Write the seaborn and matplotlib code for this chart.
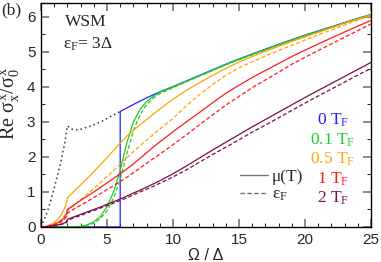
import numpy as np
import pandas as pd
import matplotlib
matplotlib.use("Agg")
import matplotlib.pyplot as plt
from matplotlib.lines import Line2D
from matplotlib.ticker import MultipleLocator
import seaborn as sns

# ── Data ─────────────────────────────────────────────────────────────────────
omega = [0, 0.5, 1, 1.5, 1.8, 1.95, 2, 2.5, 3, 3.5, 4, 4.5, 5, 5.5, 6, 6.5, 7,
         7.5, 8, 8.5, 9, 10, 11, 12, 13, 14, 15, 16, 17, 18, 19, 20, 21, 22,
         23, 24, 25]

green_mu = [0, 0, 0, 0, 0, 0, 0, 0.0, 0.02, 0.06, 0.15, 0.30, 0.58, 1.0, 1.62,
            2.40, 3.0, 3.36, 3.58, 3.73, 3.85, 4.0, 4.16, 4.32, 4.48, 4.64,
            4.79, 4.93, 5.07, 5.21, 5.34, 5.47, 5.59, 5.71, 5.83, 5.95, 6.06]
green_ef = [0, 0, 0, 0, 0, 0, 0, 0.0, 0.01, 0.04, 0.11, 0.24, 0.46, 0.82, 1.35,
            2.08, 2.75, 3.2, 3.5, 3.68, 3.81, 3.98, 4.15, 4.31, 4.47, 4.63,
            4.78, 4.92, 5.06, 5.20, 5.33, 5.46, 5.58, 5.70, 5.82, 5.94, 6.05]
orange_mu = [0, 0.03, 0.12, 0.32, 0.55, 0.72, 0.83, 1.02, 1.2, 1.39, 1.58, 1.78,
             1.98, 2.19, 2.40, 2.59, 2.76, 2.92, 3.07, 3.22, 3.37, 3.65, 3.90,
             4.12, 4.33, 4.53, 4.71, 4.87, 5.02, 5.16, 5.30, 5.43, 5.56, 5.69,
             5.82, 5.94, 6.06]
orange_ef = [0, 0.02, 0.08, 0.2, 0.32, 0.4, 0.46, 0.62, 0.78, 0.94, 1.1, 1.27,
             1.44, 1.62, 1.80, 1.98, 2.15, 2.32, 2.48, 2.64, 2.80, 3.10, 3.46,
             3.78, 4.07, 4.33, 4.55, 4.72, 4.88, 5.04, 5.19, 5.34, 5.49, 5.63,
             5.77, 5.91, 6.04]
red_mu = [0, 0.02, 0.07, 0.17, 0.28, 0.38, 0.50, 0.63, 0.76, 0.88, 1.0, 1.13,
          1.26, 1.39, 1.52, 1.66, 1.80, 1.96, 2.12, 2.28, 2.43, 2.72, 3.0, 3.27,
          3.55, 3.82, 4.05, 4.27, 4.47, 4.67, 4.87, 5.05, 5.23, 5.40, 5.57,
          5.74, 5.90]
red_ef = [0, 0.02, 0.06, 0.14, 0.23, 0.31, 0.40, 0.51, 0.62, 0.73, 0.84, 0.95,
          1.07, 1.18, 1.30, 1.42, 1.55, 1.68, 1.82, 1.95, 2.08, 2.35, 2.63, 2.92,
          3.20, 3.48, 3.73, 3.98, 4.20, 4.42, 4.65, 4.85, 5.04, 5.23, 5.42,
          5.61, 5.80]
maroon_mu = [0, 0.01, 0.04, 0.08, 0.12, 0.16, 0.22, 0.29, 0.36, 0.43, 0.50, 0.57,
             0.65, 0.72, 0.80, 0.88, 0.97, 1.05, 1.14, 1.23, 1.32, 1.52, 1.74,
             1.97, 2.2, 2.42, 2.64, 2.86, 3.07, 3.28, 3.49, 3.70, 3.90, 4.10,
             4.30, 4.50, 4.70]
maroon_ef = [0, 0.01, 0.035, 0.07, 0.10, 0.13, 0.19, 0.26, 0.33, 0.40, 0.47,
             0.54, 0.61, 0.68, 0.76, 0.83, 0.92, 1.0, 1.08, 1.16, 1.25, 1.43,
             1.63, 1.85, 2.07, 2.28, 2.49, 2.71, 2.91, 3.12, 3.33, 3.54, 3.74,
             3.94, 4.14, 4.34, 4.53]

# T = 0: zero below 2*eF, jump at Omega = 6
blue_x = [0, 6, 6, 7, 8, 9, 10, 11, 12, 13, 14, 15, 16, 17, 18, 19, 20, 21, 22,
          23, 24, 25]
blue_y = [0, 0, 3.30, 3.50, 3.69, 3.86, 4.01, 4.17, 4.33, 4.49, 4.65, 4.80,
          4.94, 5.08, 5.22, 5.35, 5.48, 5.60, 5.72, 5.84, 5.96, 6.07]

dot_x = [0, 0.5, 1, 1.5, 1.8, 2, 2.3, 2.6, 3, 3.5, 4, 4.5, 5, 5.5, 6]
dot_y = [0, 0.45, 1.1, 1.85, 2.4, 2.89, 2.80, 2.77, 2.79, 2.85, 2.92, 3.0, 3.1,
         3.2, 3.3]

temp_labels = ["0", "0.1", "0.5", "1", "2"]
colors = ["#2020ff", "#22cc22", "#ffa500", "#ff1a1a", "#7a0c4c"]

# ── Style ────────────────────────────────────────────────────────────────────
sns.set_style("ticks")
plt.rcParams["font.family"] = ["Liberation Sans", "DejaVu Sans"]
plt.rcParams["mathtext.fontset"] = "custom"
plt.rcParams["mathtext.rm"] = "Liberation Serif"
plt.rcParams["mathtext.it"] = "Liberation Serif"
plt.rcParams["mathtext.bf"] = "Liberation Serif"
SERIF = ["Liberation Serif", "DejaVu Serif"]

fig = plt.figure(figsize=(3.81, 2.62), dpi=100)
ax = fig.add_axes([0.1076, 0.1336, 0.866, 0.855])

LW = 0.9
DASH = (0, (3.2, 1.8))

sns.lineplot(x=dot_x, y=dot_y, ax=ax, color="#333333", lw=1.1,
             linestyle=(0, (1, 2)), sort=False, estimator=None)
sns.lineplot(x=blue_x, y=blue_y, ax=ax, color=colors[0], lw=LW,
             sort=False, estimator=None)

series = [(green_mu, green_ef, colors[1]), (orange_mu, orange_ef, colors[2]),
          (red_mu, red_ef, colors[3]), (maroon_mu, maroon_ef, colors[4])]
for mu, ef, c in series:
    df = pd.DataFrame({"omega": omega, "mu": mu, "ef": ef})
    sns.lineplot(data=df, x="omega", y="mu", ax=ax, color=c, lw=LW)
    sns.lineplot(data=df, x="omega", y="ef", ax=ax, color=c, lw=LW,
                 linestyle=DASH)

# ── Axes ─────────────────────────────────────────────────────────────────────
ax.set_xlim(0, 25)
ax.set_ylim(0, 6.4)
ax.xaxis.set_major_locator(MultipleLocator(5))
ax.xaxis.set_minor_locator(MultipleLocator(1))
ax.yaxis.set_major_locator(MultipleLocator(1))
ax.yaxis.set_minor_locator(MultipleLocator(0.5))
ax.tick_params(which="both", direction="in", top=True, right=True)
ax.tick_params(which="major", length=6, width=1.3, color="0.5",
               labelsize=11, pad=4)
ax.tick_params(which="minor", length=3, width=0.6, color="black")
for s in ax.spines.values():
    s.set_linewidth(1.0)
    s.set_color("black")

ax.set_xlabel("Ω / Δ", fontsize=11.5, labelpad=1)
ax.set_ylabel(r"Re $\sigma_x^x/\sigma_0^x$", fontsize=14.5, family=SERIF)
ax.yaxis.set_label_coords(-0.058, 0.55)

# ── Annotations ──────────────────────────────────────────────────────────────
fig.text(0.004, 0.945, "(b)", fontsize=12.5, family=SERIF, va="baseline")
ax.text(0.073, 0.897, "WSM", transform=ax.transAxes, fontsize=12.5,
        family=SERIF, va="baseline")
ax.text(0.067, 0.795, r"$\varepsilon_\mathrm{F}$= 3Δ", transform=ax.transAxes,
        fontsize=12.5, family=SERIF, va="baseline")

for i, (lab, c) in enumerate(zip(temp_labels, colors)):
    ax.text(0.885, 0.455 - i * 0.087, lab + r" T$_\mathrm{F}$",
            transform=ax.transAxes, color=c, fontsize=12.5, family=SERIF,
            ha="center", va="baseline")

handles = [Line2D([], [], color="0.45", lw=1.0),
           Line2D([], [], color="0.45", lw=1.0, linestyle=DASH)]
leg = ax.legend(handles, ["μ(T)", r"$\varepsilon_\mathrm{F}$"],
                loc="center left", bbox_to_anchor=(0.603, 0.183),
                frameon=False, borderpad=0, borderaxespad=0,
                handlelength=1.6, handletextpad=0.25, labelspacing=0.1,
                prop={"family": SERIF, "size": 12.5})

fig.savefig("out.png", dpi=100)
